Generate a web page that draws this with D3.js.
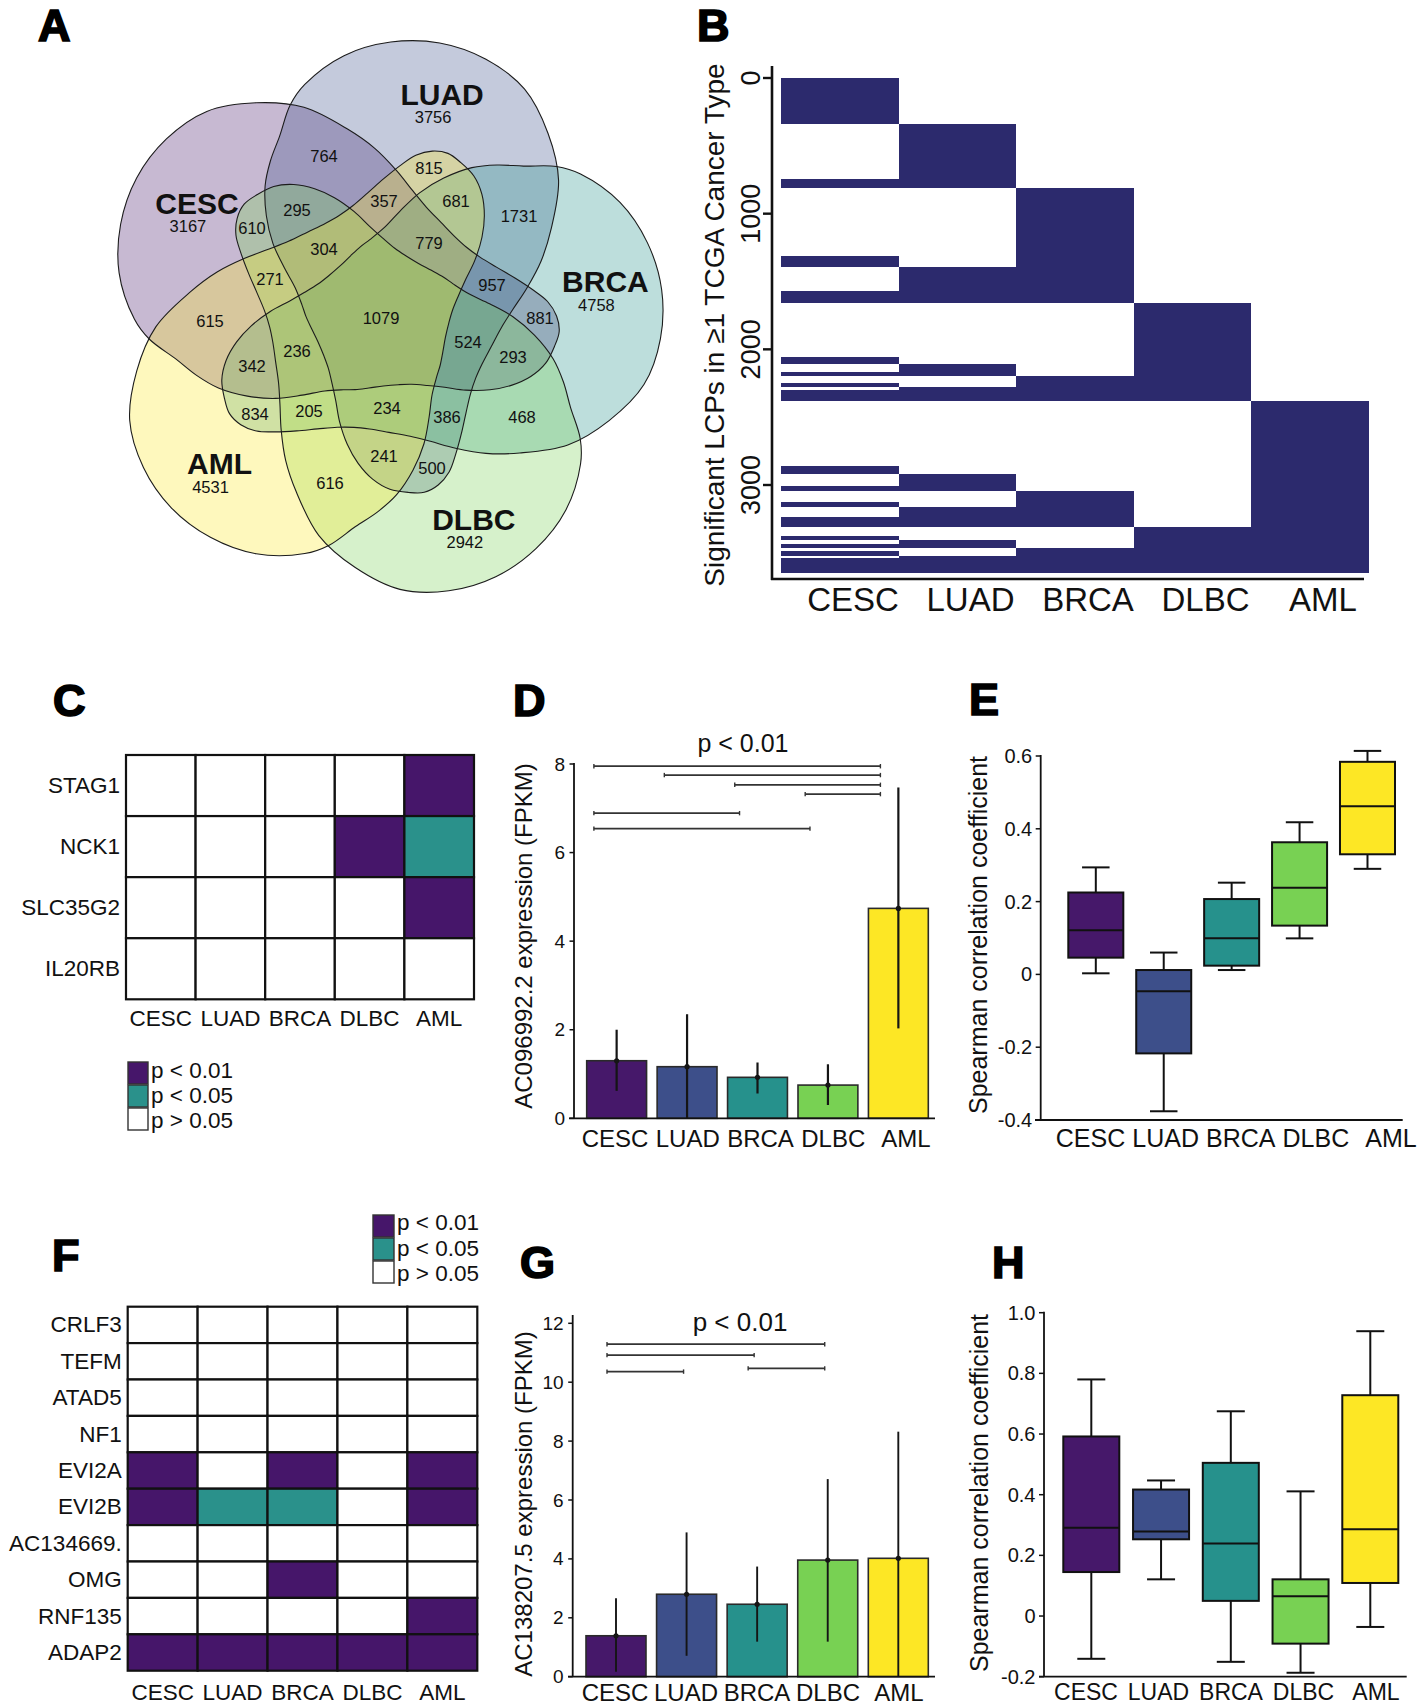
<!DOCTYPE html>
<html>
<head>
<meta charset="utf-8">
<script src="https://cdn.jsdelivr.net/npm/d3@7/dist/d3.min.js"></script>
<style>
html,body{margin:0;padding:0;background:#fff;}
svg{display:block;}
</style>
</head>
<body>
<svg id="fig" width="1417" height="1704" xmlns="http://www.w3.org/2000/svg"></svg>
<script>
/* ================= DATA ================= */
const cancers = ["CESC", "LUAD", "BRCA", "DLBC", "AML"];
const cancerColors = ["#46186a", "#3d4f8a", "#26918c", "#78d153", "#fde725"];

// Panel A – Venn counts (membership code: bit0 CESC, bit1 LUAD, bit2 BRCA, bit3 DLBC, bit4 AML)
const vennTotals = [3167, 3756, 4758, 2942, 4531];
const vennCodes  = [3, 6, 12, 24, 17, 18, 5, 10, 20, 9, 22, 13, 26, 21, 11, 19, 7, 14, 28, 25, 23, 15, 30, 29, 27, 31];
const vennCounts = [764, 1731, 468, 616, 615, 815, 881, 500, 834, 610, 681, 293, 241, 342, 295, 357, 957, 386, 205, 271, 779, 524, 234, 236, 304, 1079];

// Panel B – sizes of the 31 membership groups, ordered by code 1..31
const lcpGroupSizes = [338, 403, 68, 500, 82, 177, 94, 391, 56, 59, 29, 53, 29, 24, 79,
                       475, 64, 89, 32, 85, 38, 74, 74, 64, 30, 29, 32, 21, 38, 12, 106];
const lcpTicks = [0, 1000, 2000, 3000];

// Panel C – significance levels (2: p<0.01, 1: p<0.05, 0: p>0.05)
const genesC = ["STAG1", "NCK1", "SLC35G2", "IL20RB"];
const sigC = [[0,0,0,0,2],[0,0,0,2,1],[0,0,0,0,2],[0,0,0,0,0]];
const sigLabels = ["p < 0.01", "p < 0.05", "p > 0.05"];
const sigFills = ["#46166a", "#2a918b", "#ffffff"];

// Panel D – AC096992.2 expression
const meanD = [1.30, 1.165, 0.925, 0.75, 4.74];
const lowD  = [0.62, 0.00, 0.56, 0.30, 2.03];
const highD = [2.00, 2.35, 1.26, 1.22, 7.47];
const pairsD  = [[0,4],[1,4],[2,4],[3,4],[0,2],[0,3]];
const levelsD = [7.95, 7.75, 7.53, 7.32, 6.89, 6.54];
const ticksD = [0, 2, 4, 6, 8];

// Panel E – Spearman correlation (box stats)
const eLo  = [0.003, -0.376, 0.012, 0.099, 0.290];
const eQ1  = [0.046, -0.217, 0.024, 0.134, 0.330];
const eMed = [0.121, -0.046, 0.099, 0.238, 0.462];
const eQ3  = [0.225, 0.012, 0.207, 0.363, 0.584];
const eHi  = [0.294, 0.060, 0.252, 0.418, 0.614];
const ticksE = [-0.4, -0.2, 0, 0.2, 0.4, 0.6];

// Panel F
const genesF = ["CRLF3", "TEFM", "ATAD5", "NF1", "EVI2A", "EVI2B", "AC134669.", "OMG", "RNF135", "ADAP2"];
const sigF = [[0,0,0,0,0],[0,0,0,0,0],[0,0,0,0,0],[0,0,0,0,0],[2,0,2,0,2],
              [2,1,1,0,2],[0,0,0,0,0],[0,0,2,0,0],[0,0,0,0,2],[2,2,2,2,2]];

// Panel G – AC138207.5 expression
const meanG = [1.39, 2.80, 2.46, 3.96, 4.02];
const lowG  = [0.17, 0.71, 1.19, 1.19, 0.00];
const highG = [2.66, 4.90, 3.74, 6.71, 8.32];
const pairsG  = [[0,3],[0,2],[0,1],[2,3]];
const levelsG = [11.29, 10.92, 10.36, 10.47];
const ticksG = [0, 2, 4, 6, 8, 10, 12];

// Panel H – Spearman correlation (box stats)
const hLo  = [-0.141, 0.121, -0.151, -0.187, -0.036];
const hQ1  = [0.145, 0.253, 0.050, -0.091, 0.109];
const hMed = [0.291, 0.279, 0.239, 0.065, 0.286];
const hQ3  = [0.592, 0.417, 0.505, 0.121, 0.728];
const hHi  = [0.780, 0.447, 0.675, 0.411, 0.939];
const ticksH = [-0.2, 0, 0.2, 0.4, 0.6, 0.8, 1.0];

/* ================= HELPERS ================= */
const FONT = '"Liberation Sans", Arial, Helvetica, sans-serif';
const INK = "#111";
const svg = d3.select("#fig");
svg.append("rect").attr("width", 1417).attr("height", 1704).attr("fill", "#fff");

function txt(g, x, y, s, size, o = {}) {
  const t = g.append("text").attr("x", x).attr("y", y).text(s)
    .attr("font-family", FONT).attr("font-size", size).attr("fill", INK)
    .attr("text-anchor", o.anchor || "middle")
    .attr("dominant-baseline", o.baseline || "central");
  if (o.weight) t.attr("font-weight", o.weight);
  if (o.rotate) t.attr("transform", `rotate(${o.rotate},${x},${y})`);
  return t;
}
function seg(g, x1, y1, x2, y2, w, col) {
  return g.append("line").attr("x1", x1).attr("y1", y1).attr("x2", x2).attr("y2", y2)
    .attr("stroke", col || INK).attr("stroke-width", w);
}
const fmtDec = d => d === 0 ? "0" : (d < 0 ? "-" : "") + Math.abs(d).toFixed(1);

/* ================= PANEL LETTERS ================= */
[["A", 38, 40.5], ["B", 697, 40.5], ["C", 53, 716], ["D", 513, 716],
 ["E", 969, 715], ["F", 52, 1271], ["G", 520, 1278], ["H", 992, 1278]].forEach(([l, x, y]) => {
  svg.append("text").attr("x", x).attr("y", y).text(l)
    .attr("font-family", FONT).attr("font-weight", "bold").attr("font-size", 45)
    .attr("fill", "#000").attr("stroke", "#000").attr("stroke-width", 1.7);
});

/* ================= PANEL A : VENN ================= */
const vennCenter = [381, 319];
const vennScale = 1.015;
const vennRot = [0, 72, 144, -144, -72];           // CESC, LUAD, BRCA, DLBC, AML
const shapeAngles = [-170,-160,-150,-140,-130,-120,-110,-100,-92,-84,-76,-68,-58,-48,-40,-32,-24,-17,-11,-6,-1,
                     4,9,15,21,27,33,40,47,55,65,75,88,100,110,118,128,136,143,150,157,163,169,175,180];
const shapeRadii  = [262,273,278,276,267,246,222,190,168,147,130,119,112,109,110,115,125,138,152,165,173,
                     176,173,168,158,144,128,109,92,80,71,67,66,69,74,79,90,108,130,152,174,190,206,229,243];
const vennLabelAngles = [-147.8, -146.8, -153.4, -150.9, -149.9];
const vennLabelRadii  = [217.5, 233, 227.5, 220.6, 217];

const gA = svg.append("g");
const lineGen = d3.line().curve(d3.curveCatmullRomClosed.alpha(0.5));
const vennPaths = cancers.map((c, i) => {
  const pts = shapeAngles.map((a, k) => {
    const t = (a + vennRot[i]) * Math.PI / 180, r = shapeRadii[k] * vennScale;
    return [vennCenter[0] + r * Math.cos(t), vennCenter[1] + r * Math.sin(t)];
  });
  return lineGen(pts);
});
vennPaths.forEach((d, i) => gA.append("path").attr("d", d).attr("fill", cancerColors[i]).attr("fill-opacity", 0.3));
const outlines = vennPaths.map(d => gA.append("path").attr("d", d).attr("fill", "none")
  .attr("stroke", "#1c1c1c").attr("stroke-width", 1.1));

const polys = outlines.map(p => {
  const n = p.node(), L = n.getTotalLength(), arr = [];
  for (let k = 0; k < 360; k++) { const q = n.getPointAtLength(L * k / 360); arr.push([q.x, q.y]); }
  return arr;
});
const allPts = polys.flat();
const cands = {};
for (let x = 105; x <= 695; x += 3) {
  for (let y = 30; y <= 620; y += 3) {
    let code = 0;
    for (let i = 0; i < 5; i++) if (d3.polygonContains(polys[i], [x, y])) code |= (1 << i);
    if (!code || (code & (code - 1)) === 0) continue;
    let md = Infinity;
    for (const q of allPts) { const dx = q[0] - x, dy = q[1] - y, d2 = dx * dx + dy * dy; if (d2 < md) md = d2; }
    (cands[code] = cands[code] || []).push([x, y, Math.sqrt(md)]);
  }
}
function regionLabelPos(code) {
  const c = cands[code]; if (!c) return null;
  const cx = d3.mean(c, p => p[0]), cy = d3.mean(c, p => p[1]);
  let bestP = null, bestS = -Infinity;
  c.forEach(p => { const s = p[2] - 0.35 * Math.hypot(p[0] - cx, p[1] - cy); if (s > bestS) { bestS = s; bestP = p; } });
  return bestP;
}
vennCodes.forEach((code, k) => { const b = regionLabelPos(code); if (b) txt(gA, b[0], b[1], vennCounts[k], 16.5); });
cancers.forEach((c, i) => {
  const t = (vennLabelAngles[i] + vennRot[i]) * Math.PI / 180;
  const lx = vennCenter[0] + vennLabelRadii[i] * Math.cos(t), ly = vennCenter[1] + vennLabelRadii[i] * Math.sin(t);
  txt(gA, lx, ly, c, 30, { weight: "bold" });
  txt(gA, lx - 9, ly + 23, vennTotals[i], 16.5);
});

/* ================= PANEL B : LCP MATRIX ================= */
const gB = svg.append("g");
const xB = d3.scaleBand().domain(cancers).range([781, 1369]);
const yB = d3.scaleLinear().domain([0, 3000]).range([78, 485]);
let acc = 0;
const groups = lcpGroupSizes.map((n, i) => { const g = { code: i + 1, start: acc, end: acc + n }; acc += n; return g; });
cancers.forEach((c, j) => {
  let runStart = null;
  groups.forEach((g, k) => {
    const on = (g.code >> j) & 1;
    if (on && runStart === null) runStart = g.start;
    const nextOn = k + 1 < groups.length ? (groups[k + 1].code >> j) & 1 : 0;
    if (on && !nextOn) {
      gB.append("rect").attr("x", xB(c)).attr("width", xB.bandwidth())
        .attr("y", yB(runStart)).attr("height", yB(g.end) - yB(runStart))
        .attr("fill", "#2c2a6d").attr("shape-rendering", "crispEdges");
      runStart = null;
    }
  });
});
seg(gB, 772, 66, 772, 580, 2.6);
seg(gB, 771, 579, 1364, 579, 2.6);
lcpTicks.forEach(t => {
  seg(gB, 763, yB(t), 772, yB(t), 2.4);
  txt(gB, 751, yB(t), t, 27, { rotate: -90 });
});
const xBlab = d3.scalePoint().domain(cancers).range([853, 1323]);
cancers.forEach(c => txt(gB, xBlab(c), 599, c, 33));
txt(gB, 714, 325, "Significant LCPs in \u22651 TCGA Cancer Type", 28, { rotate: -90 });

/* ================= HEATMAPS C & F ================= */
function heatmap(genes, sig, xr, yr, labelX, colLabelY, fs) {
  const g = svg.append("g");
  const x = d3.scaleBand().domain(cancers).range(xr);
  const y = d3.scaleBand().domain(genes).range(yr);
  genes.forEach((gene, i) => cancers.forEach((c, j) => {
    g.append("rect").attr("x", x(c)).attr("y", y(gene)).attr("width", x.bandwidth()).attr("height", y.bandwidth())
      .attr("fill", sigFills[2 - sig[i][j]]).attr("stroke", INK).attr("stroke-width", 2.2);
  }));
  genes.forEach(gene => txt(g, labelX, y(gene) + y.bandwidth() / 2, gene, fs, { anchor: "end" }));
  cancers.forEach(c => txt(g, x(c) + x.bandwidth() / 2, colLabelY, c, fs));
}
function sigLegend(x, y, w, h, step, textX, textY0, textStep, fs) {
  const g = svg.append("g");
  sigLabels.forEach((l, i) => {
    g.append("rect").attr("x", x).attr("y", y + i * step).attr("width", w).attr("height", h)
      .attr("fill", sigFills[i]).attr("stroke", "#333").attr("stroke-width", 1.4);
    txt(g, textX, textY0 + i * textStep, l, fs, { anchor: "start" });
  });
}
heatmap(genesC, sigC, [126, 474], [755, 999.3], 120, 1018, 22.5);
sigLegend(128, 1062, 20, 22, 23, 151, 1070, 25, 22.5);
heatmap(genesF, sigF, [127.7, 477.3], [1306.7, 1670.7], 121.7, 1692, 22.5);
sigLegend(373, 1215, 21, 22, 23, 397, 1222.7, 25.3, 22.5);

/* ================= BAR PANELS D & G ================= */
function barPanel(o) {
  const g = svg.append("g");
  const x = d3.scaleBand().domain(cancers).range(o.barRange).paddingInner(0.15).paddingOuter(0);
  const y = d3.scaleLinear().domain(o.domain).range(o.yRange);
  const bw = x.bandwidth();
  cancers.forEach((c, i) => {
    g.append("rect").attr("x", x(c)).attr("y", y(o.mean[i])).attr("width", bw)
      .attr("height", y(0) - y(o.mean[i])).attr("fill", cancerColors[i])
      .attr("stroke", "#2a2a2a").attr("stroke-width", 1.6);
  });
  cancers.forEach((c, i) => {
    const cx = x(c) + bw / 2;
    seg(g, cx, y(o.low[i]), cx, y(o.high[i]), o.errW, "#151515");
    g.append("circle").attr("cx", cx).attr("cy", y(o.mean[i])).attr("r", 2.6).attr("fill", "#151515");
  });
  o.pairs.forEach((p, k) => {
    const x1 = x(cancers[p[0]]) + bw * o.fracL, x2 = x(cancers[p[1]]) + bw * o.fracR, yy = y(o.levels[k]);
    seg(g, x1, yy, x2, yy, 1.7, "#333");
    seg(g, x1, yy - 2.2, x1, yy + 2.2, 1.4, "#333");
    seg(g, x2, yy - 2.2, x2, yy + 2.2, 1.4, "#333");
  });
  seg(g, o.axisX, o.axisTop, o.axisX, y(0), 1.8);
  seg(g, o.xAxisStart, y(0), o.xAxisEnd, y(0), 1.8);
  o.ticks.forEach(t => {
    seg(g, o.axisX - 4.5, y(t), o.axisX, y(t), 1.5);
    txt(g, o.axisX - 9, y(t), t, 19, { anchor: "end" });
  });
  const xl = d3.scalePoint().domain(cancers).range(o.labelRange);
  cancers.forEach(c => txt(g, xl(c), o.labelY, c, 24));
  txt(g, o.titleX, o.titleY, "p < 0.01", o.titleSize);
  txt(g, o.yTitleX, o.yTitleY, o.yTitle, 24, { rotate: -90 });
}
barPanel({ barRange: [586.7, 928.3], domain: [0, 8], yRange: [1118.3, 764], mean: meanD, low: lowD, high: highD,
  pairs: pairsD, levels: levelsD, fracL: 0.12, fracR: 0.2, errW: 2.2, axisX: 574, axisTop: 763,
  xAxisStart: 569, xAxisEnd: 935, ticks: ticksD, labelRange: [615, 906], labelY: 1138,
  titleX: 743, titleY: 743, titleSize: 25, yTitleX: 523, yTitleY: 936, yTitle: "AC096992.2 expression (FPKM)" });
barPanel({ barRange: [586, 928.3], domain: [0, 12], yRange: [1676.7, 1323.3], mean: meanG, low: lowG, high: highG,
  pairs: pairsG, levels: levelsG, fracL: 0.35, fracR: 0.45, errW: 1.9, axisX: 572.7, axisTop: 1315,
  xAxisStart: 568, xAxisEnd: 935, ticks: ticksG, labelRange: [615, 899], labelY: 1692,
  titleX: 740, titleY: 1322, titleSize: 26, yTitleX: 523, yTitleY: 1504, yTitle: "AC138207.5 expression (FPKM)" });

/* ================= BOX PANELS E & H ================= */
function boxPanel(o) {
  const g = svg.append("g");
  const x = d3.scaleBand().domain(cancers).range(o.boxRange).paddingInner(o.pad).paddingOuter(0);
  const y = d3.scaleLinear().domain(o.domain).range(o.yRange);
  const bw = x.bandwidth();
  cancers.forEach((c, i) => {
    const cx = x(c) + bw / 2, cap = bw * 0.25;
    seg(g, cx, y(o.hi[i]), cx, y(o.q3[i]), 2);
    seg(g, cx, y(o.q1[i]), cx, y(o.lo[i]), 2);
    seg(g, cx - cap, y(o.hi[i]), cx + cap, y(o.hi[i]), 2);
    seg(g, cx - cap, y(o.lo[i]), cx + cap, y(o.lo[i]), 2);
    g.append("rect").attr("x", x(c)).attr("y", y(o.q3[i])).attr("width", bw)
      .attr("height", y(o.q1[i]) - y(o.q3[i])).attr("fill", cancerColors[i])
      .attr("stroke", INK).attr("stroke-width", 2);
    seg(g, x(c), y(o.med[i]), x(c) + bw, y(o.med[i]), 2);
  });
  seg(g, o.axisX, o.axisTop, o.axisX, o.axisBottom, 1.8);
  seg(g, o.xAxisStart, y(o.domain[0]), o.xAxisEnd, y(o.domain[0]), 1.8);
  o.ticks.forEach(t => {
    seg(g, o.axisX - 5, y(t), o.axisX, y(t), 1.5);
    txt(g, o.axisX - 8.5, y(t), fmtDec(t), 20, { anchor: "end" });
  });
  const xl = d3.scalePoint().domain(cancers).range(o.labelRange);
  cancers.forEach(c => txt(g, xl(c), o.labelY, c, o.labelSize));
  txt(g, o.yTitleX, o.yTitleY, "Spearman correlation coefficient", 25, { rotate: -90 });
}
boxPanel({ boxRange: [1068.3, 1395], pad: 0.19, domain: [-0.4, 0.6], yRange: [1120, 756],
  lo: eLo, q1: eQ1, med: eMed, q3: eQ3, hi: eHi, axisX: 1040.7, axisTop: 755, axisBottom: 1120.7,
  xAxisStart: 1035, xAxisEnd: 1402.7, ticks: ticksE, labelRange: [1090.5, 1391], labelY: 1138, labelSize: 25,
  yTitleX: 978, yTitleY: 935 });
boxPanel({ boxRange: [1063.3, 1398.3], pad: 0.197, domain: [-0.2, 1.0], yRange: [1676.7, 1312.7],
  lo: hLo, q1: hQ1, med: hMed, q3: hQ3, hi: hHi, axisX: 1044, axisTop: 1311.7, axisBottom: 1676.7,
  xAxisStart: 1039, xAxisEnd: 1406.7, ticks: ticksH, labelRange: [1086, 1376], labelY: 1692, labelSize: 23,
  yTitleX: 978.5, yTitleY: 1493 });
</script>
</body>
</html>
